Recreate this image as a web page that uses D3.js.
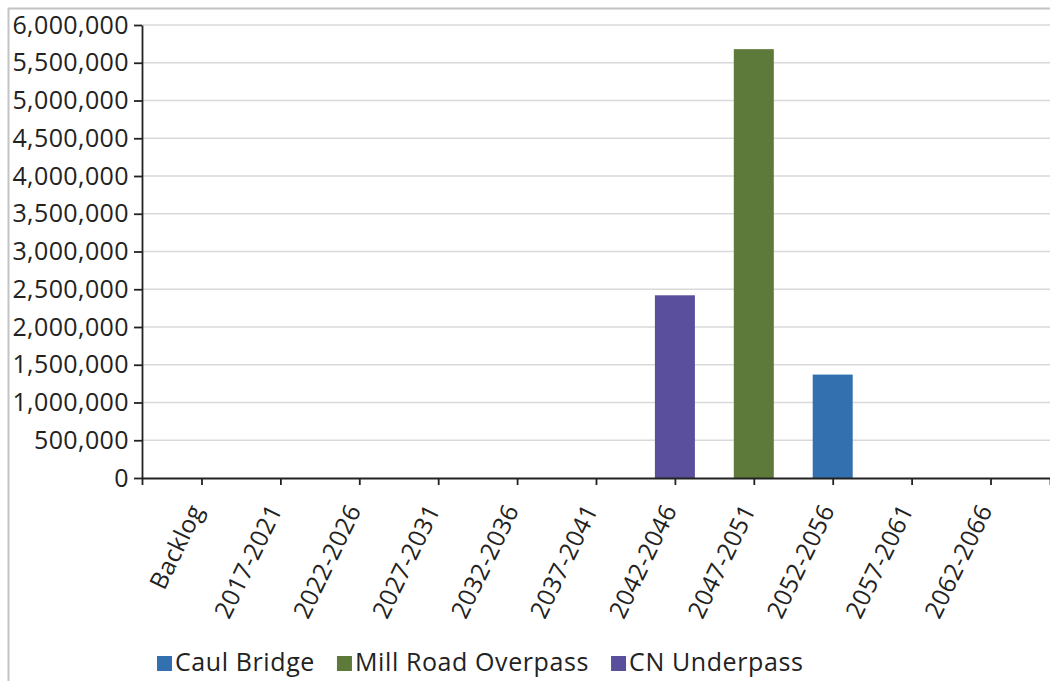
<!DOCTYPE html>
<html>
<head>
<meta charset="utf-8">
<script src="https://cdn.jsdelivr.net/npm/d3@7"></script>
<style>
  html, body { margin: 0; padding: 0; background: #fff; }
  svg { display: block; font-family: "Open Sans", "Noto Sans", sans-serif; }
</style>
</head>
<body>
<svg id="chart" width="1050" height="681"></svg>
<script>
// Categories (5-year periods) and the three structures' costs
const periods = ["Backlog", "2017-2021", "2022-2026", "2027-2031", "2032-2036",
                 "2037-2041", "2042-2046", "2047-2051", "2052-2056", "2057-2061", "2062-2066"];
const seriesNames = ["Caul Bridge", "Mill Road Overpass", "CN Underpass"];
const seriesColors = ["#3370b0", "#5e7a3a", "#5a4f9c"];
const caulBridge       = [0, 0, 0, 0, 0, 0, 0, 0, 1370000, 0, 0];
const millRoadOverpass = [0, 0, 0, 0, 0, 0, 0, 5680000, 0, 0, 0];
const cnUnderpass      = [0, 0, 0, 0, 0, 0, 2420000, 0, 0, 0, 0];
const yTicks = [0, 500000, 1000000, 1500000, 2000000, 2500000, 3000000,
                3500000, 4000000, 4500000, 5000000, 5500000, 6000000];

const seriesValues = [caulBridge, millRoadOverpass, cnUnderpass];

const svg = d3.select("#chart");
const W = 1050, H = 681;
const plotL = 142, plotR = 1050, plotT = 25, plotB = 478;
const textColor = "#222";

// frame of the chart area
svg.append("line").attr("x1", 8).attr("x2", W).attr("y1", 8.5).attr("y2", 8.5)
   .attr("stroke", "#c4c4c4").attr("stroke-width", 2);
svg.append("line").attr("x1", 8.5).attr("x2", 8.5).attr("y1", 8).attr("y2", H)
   .attr("stroke", "#c4c4c4").attr("stroke-width", 2);

const x = d3.scalePoint().domain(periods).range([plotL, plotR]).padding(0.754);
const y = d3.scaleLinear().domain([0, 6000000]).range([plotB, plotT]);

// horizontal gridlines
svg.append("g").selectAll("line").data(yTicks.filter(d => d > 0)).join("line")
   .attr("x1", plotL).attr("x2", plotR)
   .attr("y1", d => y(d)).attr("y2", d => y(d))
   .attr("stroke", "#d9d9d9").attr("stroke-width", 1.5);

// bars: one per non-zero value, centred on its period
const barW = 40;
const bars = [];
seriesValues.forEach((vals, si) => {
  vals.forEach((v, i) => { if (v > 0) bars.push({ p: periods[i], v, si }); });
});
svg.append("g").selectAll("rect").data(bars).join("rect")
   .attr("x", d => x(d.p) - barW / 2)
   .attr("width", barW)
   .attr("y", d => y(d.v))
   .attr("height", d => y(0) - y(d.v))
   .attr("fill", d => seriesColors[d.si]);

// y axis
const yAxis = svg.append("g").attr("transform", `translate(${plotL},0)`)
   .call(d3.axisLeft(y).tickValues(yTicks).tickFormat(d3.format(","))
         .tickSizeInner(8).tickSizeOuter(0).tickPadding(5));
yAxis.selectAll("text").attr("font-size", 25).attr("fill", textColor)
   .attr("letter-spacing", 0.4)
   .attr("font-family", "Open Sans, Noto Sans, sans-serif");

// x axis
const xAxis = svg.append("g").attr("transform", `translate(0,${plotB})`)
   .call(d3.axisBottom(x).tickSizeInner(7).tickSizeOuter(7));
xAxis.selectAll("text")
   .attr("font-size", 24.5).attr("fill", textColor)
   .attr("letter-spacing", 0.3)
   .attr("font-family", "Open Sans, Noto Sans, sans-serif")
   .attr("text-anchor", "end")
   .attr("dy", 0)
   .attr("transform", "translate(2,32) rotate(-64)")
   .attr("y", 0).attr("x", 0);

svg.selectAll(".domain, .tick line").attr("stroke", "#222").attr("stroke-width", 1.8);

// legend
const legend = svg.append("g").attr("font-size", 25).attr("fill", textColor)
   .attr("letter-spacing", 0.6);
let lx = 157;
seriesNames.forEach((name, i) => {
  legend.append("rect").attr("x", lx).attr("y", 656).attr("width", 15).attr("height", 15)
        .attr("fill", seriesColors[i]);
  const t = legend.append("text").attr("x", lx + 18).attr("y", 671).text(name);
  lx += 18 + t.node().getComputedTextLength() + 22;
});
</script>
</body>
</html>
